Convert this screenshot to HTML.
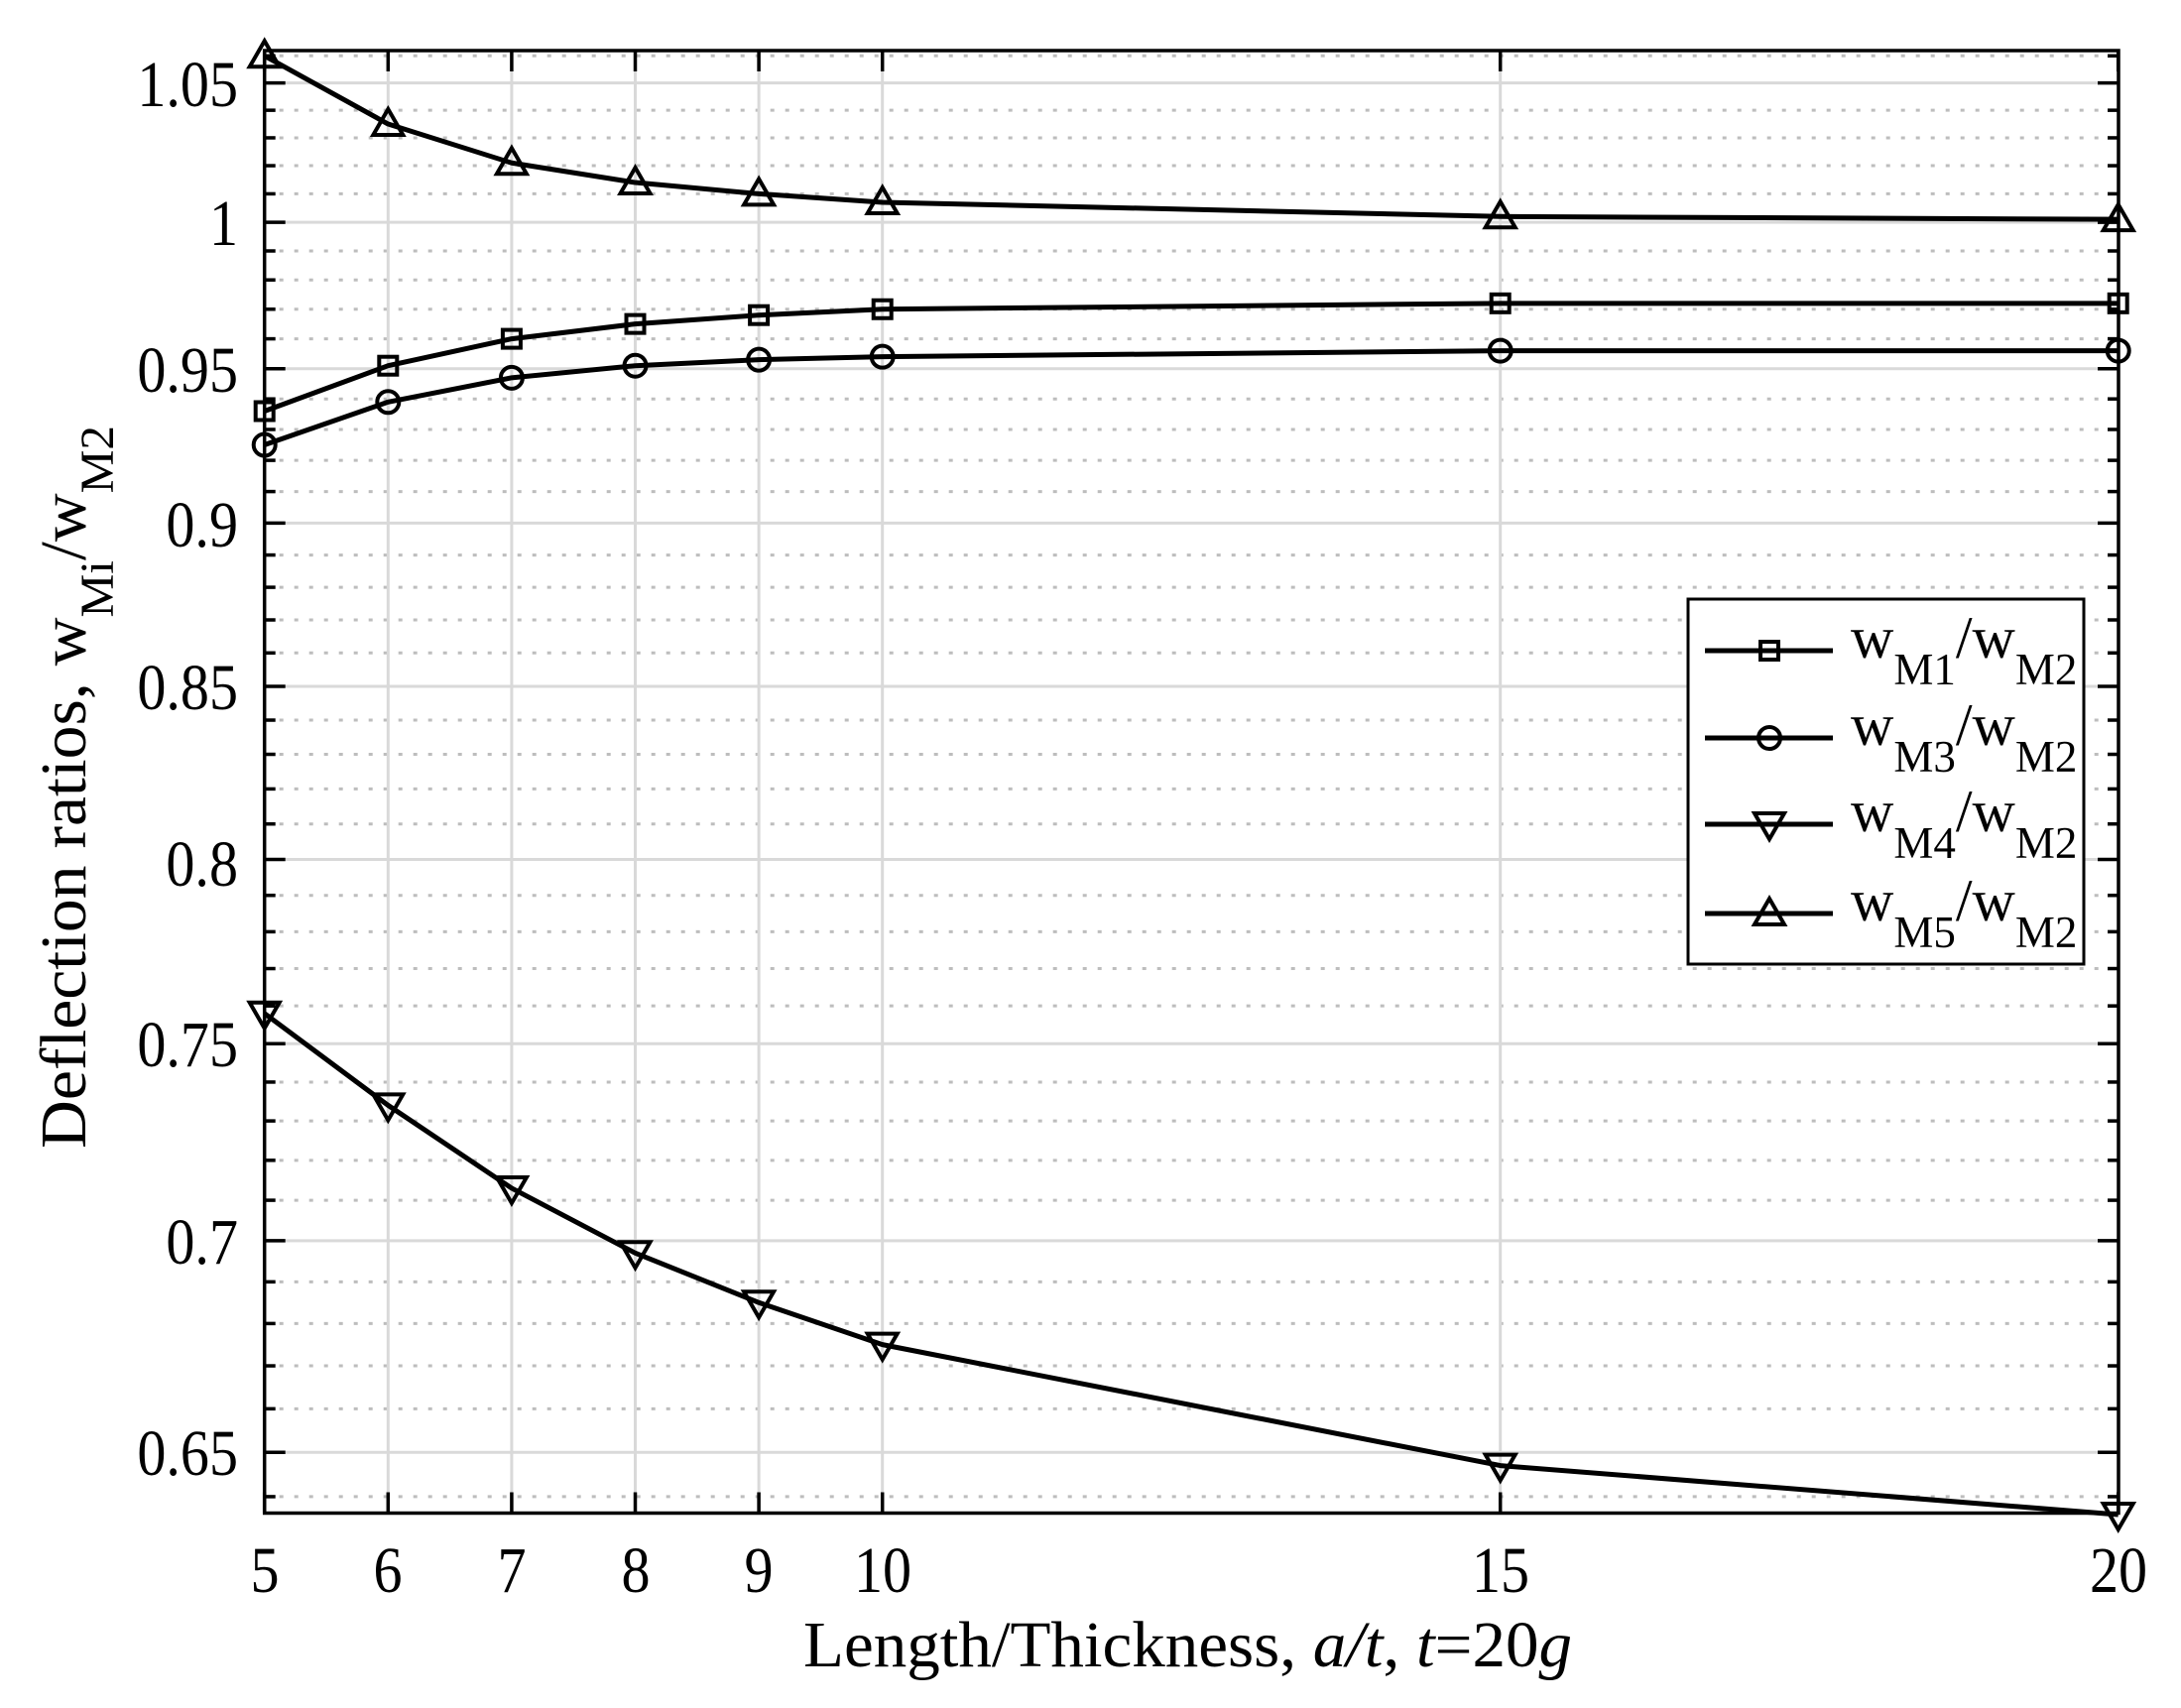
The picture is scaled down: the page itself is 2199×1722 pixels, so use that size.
<!DOCTYPE html>
<html><head><meta charset="utf-8"><style>
html,body{margin:0;padding:0;background:#fff;}
svg{display:block;font-family:"Liberation Serif",serif;}
</style></head><body>
<svg id="s" width="2199" height="1722" viewBox="0 0 2199 1722" xmlns="http://www.w3.org/2000/svg">
<rect width="2199" height="1722" fill="#fff"/>
<g id="grid"></g>
<g id="data"></g>
<g id="axes"></g>
<g font-size="66" text-anchor="end" transform="translate(240,0) scale(0.88,1) translate(-240,0)">
<text x="240" y="1487">0.65</text>
<text x="240" y="1274">0.7</text>
<text x="240" y="1075">0.75</text>
<text x="240" y="893">0.8</text>
<text x="240" y="715">0.85</text>
<text x="240" y="551">0.9</text>
<text x="240" y="395">0.95</text>
<text x="240" y="247">1</text>
<text x="240" y="107">1.05</text>
</g>
<g font-size="66" text-anchor="middle">
<text x="267" y="1605" transform="translate(267,0) scale(0.88,1) translate(-267,0)">5</text>
<text x="391" y="1605" transform="translate(391,0) scale(0.88,1) translate(-391,0)">6</text>
<text x="516" y="1605" transform="translate(516,0) scale(0.88,1) translate(-516,0)">7</text>
<text x="641" y="1605" transform="translate(641,0) scale(0.88,1) translate(-641,0)">8</text>
<text x="765" y="1605" transform="translate(765,0) scale(0.88,1) translate(-765,0)">9</text>
<text x="890" y="1605" transform="translate(890,0) scale(0.88,1) translate(-890,0)">10</text>
<text x="1513" y="1605" transform="translate(1513,0) scale(0.88,1) translate(-1513,0)">15</text>
<text x="2136" y="1605" transform="translate(2136,0) scale(0.88,1) translate(-2136,0)">20</text>
</g>
<text x="810" y="1680" font-size="66" textLength="775" lengthAdjust="spacingAndGlyphs">Length/Thickness, <tspan font-style="italic">a/t</tspan>, <tspan font-style="italic">t</tspan>=20<tspan font-style="italic">g</tspan></text>
<text transform="translate(86,1158) rotate(-90)" font-size="66" textLength="729" lengthAdjust="spacingAndGlyphs">Deflection ratios, w<tspan font-size="48" dy="28">Mi</tspan><tspan dy="-28">/w</tspan><tspan font-size="48" dy="28">M2</tspan></text>
<rect x="1702" y="604" width="399" height="368" fill="#fff" stroke="#000" stroke-width="3"/>
<g id="leg"></g>
<g font-size="60">
<text x="1866" y="663">w<tspan font-size="45" dy="27">M1</tspan><tspan dy="-27">/w</tspan><tspan font-size="45" dy="27">M2</tspan></text>
<text x="1866" y="751">w<tspan font-size="45" dy="27">M3</tspan><tspan dy="-27">/w</tspan><tspan font-size="45" dy="27">M2</tspan></text>
<text x="1866" y="838">w<tspan font-size="45" dy="27">M4</tspan><tspan dy="-27">/w</tspan><tspan font-size="45" dy="27">M2</tspan></text>
<text x="1866" y="928">w<tspan font-size="45" dy="27">M5</tspan><tspan dy="-27">/w</tspan><tspan font-size="45" dy="27">M2</tspan></text>
</g>
</svg>
<script>
var NS="http://www.w3.org/2000/svg";
function el(p,t,a){var e=document.createElementNS(NS,t);for(var k in a)e.setAttribute(k,a[k]);document.getElementById(p).appendChild(e);return e;}
var L=266.7,R=2136,T=51,B=1525.5;
function X(v){return L+(v-5)*124.6;}
function Y(v){return 1052.3-2879*Math.log(v/0.75);}
for(var i=64;i<=106;i++){var v=i/100,y=Y(v);if(y<T+2||y>B-2)continue;
 if(i%5==0){el("grid","line",{x1:L,x2:R,y1:y,y2:y,stroke:"#d9d9d9","stroke-width":3});}
 else{el("grid","line",{x1:L,x2:R,y1:y,y2:y,stroke:"#bdbdbd","stroke-width":3,"stroke-dasharray":"4 11"});}
}
var xs=[5,6,7,8,9,10,15,20];
xs.forEach(function(v){el("grid","line",{x1:X(v),x2:X(v),y1:T,y2:B,stroke:"#d9d9d9","stroke-width":3});});
for(var i=64;i<=106;i++){var v=i/100,y=Y(v);if(y<T+2||y>B-2)continue;var len=(i%5==0)?21:11;
 el("axes","line",{x1:L,x2:L+len,y1:y,y2:y,stroke:"#000","stroke-width":3.5});
 el("axes","line",{x1:R,x2:R-len,y1:y,y2:y,stroke:"#000","stroke-width":3.5});}
xs.forEach(function(v){el("axes","line",{x1:X(v),x2:X(v),y1:B,y2:B-21,stroke:"#000","stroke-width":3.5});
 el("axes","line",{x1:X(v),x2:X(v),y1:T,y2:T+21,stroke:"#000","stroke-width":3.5});});
el("axes","rect",{x:L,y:T,width:R-L,height:B-T,fill:"none",stroke:"#000","stroke-width":3.5});
var D={
 sq:[0.936,0.951,0.960,0.965,0.968,0.970,0.972,0.972],
 ci:[0.925,0.939,0.947,0.951,0.953,0.954,0.956,0.956],
 dn:[0.758,0.734,0.713,0.697,0.685,0.675,0.647,0.636],
 up:[1.060,1.035,1.021,1.014,1.010,1.007,1.002,1.001]};
function marker(g,t,x,y){var a={fill:"none",stroke:"#000","stroke-width":4};
 if(t=="sq"){a.x=x-9;a.y=y-9;a.width=18;a.height=18;el(g,"rect",a);}
 else if(t=="ci"){a.cx=x;a.cy=y;a.r=11;el(g,"circle",a);}
 else if(t=="up"){a.points=(x-15)+","+(y+11)+" "+(x+15)+","+(y+11)+" "+x+","+(y-15);el(g,"polygon",a);}
 else {a.points=(x-15)+","+(y-11)+" "+(x+15)+","+(y-11)+" "+x+","+(y+15);el(g,"polygon",a);}}
for(var k in D){var pts=D[k].map(function(v,i){return X(xs[i])+","+Y(v);}).join(" ");
 el("data","polyline",{points:pts,fill:"none",stroke:"#000","stroke-width":5,"stroke-linejoin":"round"});
 D[k].forEach(function(v,i){marker("data",k,X(xs[i]),Y(v));});}
var ly={sq:656,ci:744,dn:831,up:921};
for(var k in ly){el("leg","line",{x1:1719,x2:1848,y1:ly[k],y2:ly[k],stroke:"#000","stroke-width":5});marker("leg",k,1784,ly[k]);}
</script>
</body></html>
